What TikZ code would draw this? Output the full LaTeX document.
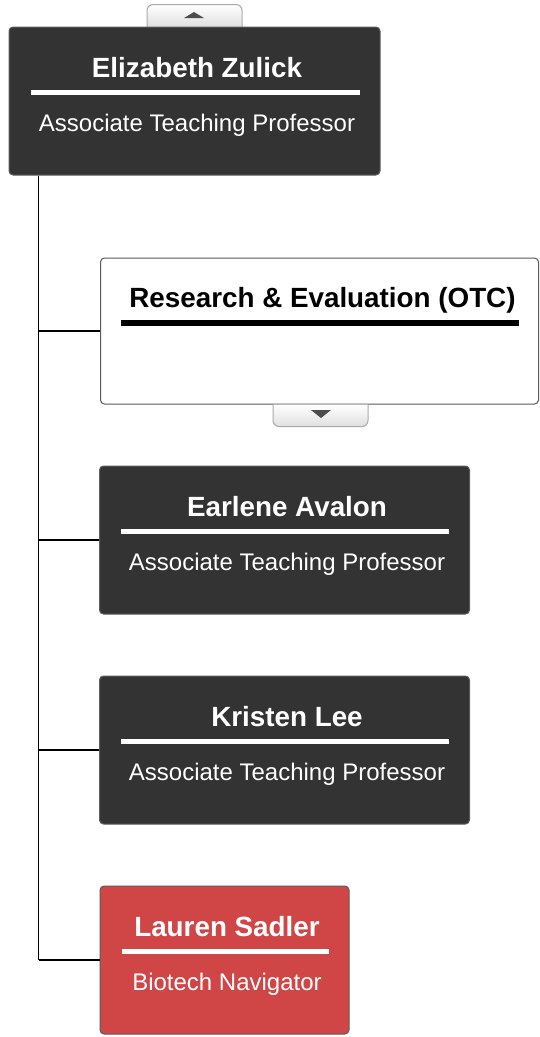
\documentclass[tikz,border=0pt]{standalone}
\usepackage{fontspec}
\setmainfont{Liberation Sans}
\usetikzlibrary{calc,positioning}
\definecolor{carddark}{RGB}{51,51,51}
\definecolor{cardred}{RGB}{208,69,69}
\definecolor{tabgrey}{RGB}{170,170,170}
\tikzset{
  cardbox/.style={draw=#1,rounded corners=4pt,line width=1pt,minimum height=148,inner sep=0pt},
  cardbox/.default=carddark!80,
  nametext/.style={anchor=base,font=\fontsize{27.8pt}{32pt}\selectfont\bfseries,inner sep=0pt},
  titletext/.style={anchor=base,font=\fontsize{24pt}{28pt}\selectfont,inner sep=0pt},
  rulewhite/.style={draw=white,line width=5pt},
  link/.style={draw=black,line width=1.4pt},
  tabbox/.style={draw=tabgrey,line width=1pt,top color=white,bottom color=gray!25},
  tabarrow/.style={fill=black!70}
}
\newcommand{\orgcard}[6]{% name, centre, width, fill, person, role
  \node[cardbox,fill=#4,minimum width=#3] (#1) at (#2) {};
  \node[nametext,text=white] (#1-name) at ($(#1.north)+(2.5,51)$) {#5};
  \draw[rulewhite] ($(#1.north west)+(22,66)$) -- ($(#1.north east)+(-21,66)$);
  \node[titletext,text=white] (#1-role) at ($(#1.north)+(2.5,105)$) {#6};
}

\begin{document}
\begin{tikzpicture}[x=1pt,y=-1pt]
  \useasboundingbox (0,0) rectangle (539,1037);
  % collapse tab above the head card
  \draw[tabbox,rounded corners=6pt] (147,27) -- (147,4.5) -- (242,4.5) -- (242,27);
  \fill[tabarrow] (184,18) -- (204,18) -- (194,12) -- cycle;
  \orgcard{zulick}{194.5,101}{371}{carddark}{Elizabeth Zulick}{Associate Teaching Professor}
  % group card
  \node[cardbox=black!65,fill=white,minimum width=438,minimum height=146] (research) at (319.5,331) {};
  \node[nametext,text=black] (research-name) at ($(research.north)+(3,50)$) {Research \& Evaluation (OTC)};
  \draw[draw=black,line width=6pt] ($(research.north west)+(21,65)$) -- ($(research.north east)+(-20,65)$);
  \draw[tabbox,rounded corners=6pt] (273,404.5) -- (273,426.5) -- (368,426.5) -- (368,404.5);
  \fill[tabarrow] (311,410) -- (331,410) -- (321,418) -- cycle;
  \orgcard{avalon}{284.5,540}{370}{carddark}{Earlene Avalon}{Associate Teaching Professor}
  \orgcard{lee}{284.5,750}{370}{carddark}{Kristen Lee}{Associate Teaching Professor}
  \orgcard{sadler}{224.5,960}{249}{cardred}{Lauren Sadler}{Biotech Navigator}
  % connectors
  \coordinate (trunk-top) at ($(zulick.south west)+(30,0)$);
  \coordinate (trunk-end) at (trunk-top |- sadler.west);
  \draw[link] (trunk-top) -- (trunk-end);
  \foreach \card in {research,avalon,lee,sadler}
    \draw[link] (\card.west -| trunk-top) -- (\card.west);
\end{tikzpicture}
\end{document}
